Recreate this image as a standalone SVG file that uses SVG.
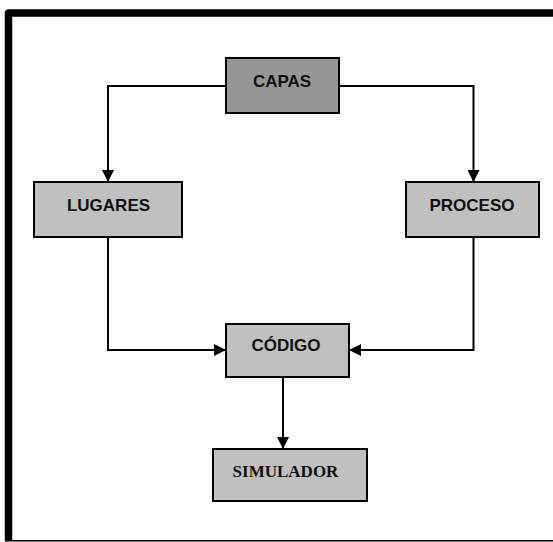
<svg xmlns="http://www.w3.org/2000/svg" width="553" height="542" viewBox="0 0 553 542">
  <style>
    .box { stroke: #000; stroke-width: 2; fill: #c0c0c0; }
    .box.dark { fill: #969696; }
    .lbl { font-family: "Liberation Sans", Arial, sans-serif; font-weight: bold; font-size: 17px; text-anchor: middle; fill: #111; }
    .lbl.serif { font-family: "Liberation Serif", "Times New Roman", serif; }
    .wire { fill: none; stroke: #000; stroke-width: 2; }
  </style>
  <defs>
    <marker id="arrow" viewBox="0 0 12 12" refX="12" refY="6" markerWidth="12" markerHeight="12" markerUnits="userSpaceOnUse" orient="auto">
      <path d="M0,0 L12,6 L0,12 Z" fill="#000"/>
    </marker>
  </defs>
  <rect width="553" height="542" fill="#fff"/>

  <!-- page frame -->
  <g id="frame">
    <path d="M8.5,541 L8.5,13 L553,13" fill="none" stroke="#000" stroke-width="7.5" stroke-linejoin="round"/>
    <line x1="5" y1="540.8" x2="553" y2="540.8" stroke="#000" stroke-width="1.5"/>
  </g>

  <!-- connectors -->
  <g id="connectors">
    <path class="wire" d="M226,86 L108,86 L108,182" marker-end="url(#arrow)"/>
    <path class="wire" d="M339,86 L473.5,86 L473.5,182" marker-end="url(#arrow)"/>
    <path class="wire" d="M108,237 L108,350 L226,350" marker-end="url(#arrow)"/>
    <path class="wire" d="M473.5,237 L473.5,350 L349,350" marker-end="url(#arrow)"/>
    <path class="wire" d="M283,377 L283,449" marker-end="url(#arrow)"/>
  </g>

  <g id="capas">
    <rect class="box dark" x="226" y="58" width="113" height="55"/>
    <text class="lbl" x="282" y="87">CAPAS</text>
  </g>
  <g id="lugares">
    <rect class="box" x="34" y="182" width="148" height="55"/>
    <text class="lbl" x="108.5" y="211">LUGARES</text>
  </g>
  <g id="proceso">
    <rect class="box" x="406" y="182" width="133" height="55"/>
    <text class="lbl" x="472" y="211">PROCESO</text>
  </g>
  <g id="codigo">
    <rect class="box" x="226" y="324" width="123" height="53"/>
    <text class="lbl" x="286" y="351">CÓDIGO</text>
  </g>
  <g id="simulador">
    <rect class="box" x="213" y="449" width="154" height="52"/>
    <text class="lbl serif" x="285.5" y="477">SIMULADOR</text>
  </g>
</svg>
